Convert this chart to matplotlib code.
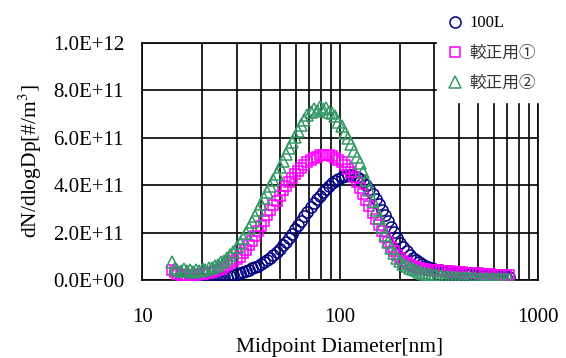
import matplotlib.pyplot as plt
import numpy as np

plt.rcParams['font.family'] = ['Liberation Serif', 'Noto Sans CJK JP']
plt.rcParams['mathtext.fontset'] = 'stix'

# SMPS channel midpoints [nm]
diam = [14.1, 14.6, 15.1, 15.7, 16.3, 16.8, 17.5, 18.1, 18.8, 19.5,
        20.2, 20.9, 21.7, 22.5, 23.3, 24.1, 25.0, 25.9, 26.9, 27.9,
        28.9, 30.0, 31.1, 32.2, 33.4, 34.6, 35.9, 37.2, 38.5, 40.0,
        41.4, 42.9, 44.5, 46.1, 47.8, 49.6, 51.4, 53.3, 55.2, 57.3,
        59.4, 61.5, 63.8, 66.1, 68.5, 71.0, 73.7, 76.4, 79.1, 82.0,
        85.1, 88.2, 91.4, 94.7, 98.2, 101.8, 105.5, 109.4, 113.4, 117.6,
        121.9, 126.3, 131.0, 135.8, 140.7, 145.9, 151.2, 156.8, 162.5, 168.5,
        174.7, 181.1, 187.7, 194.6, 201.7, 209.1, 216.7, 224.7, 232.9, 241.4,
        250.3, 259.5, 269.0, 278.8, 289.0, 299.6, 310.6, 322.0, 333.8, 346.0,
        358.7, 371.8, 385.4, 399.5, 414.2, 429.4, 445.1, 461.4, 478.3, 495.8,
        514.0, 532.8, 552.3, 572.5, 593.5, 615.3, 637.8, 661.2, 685.4, 710.5]

# dN/dlogDp in units of 1e10 #/m3
n_100L = [np.nan, np.nan, np.nan, 0.3, 0.2, 0.3, 0.2, 0.3, 0.3, 0.4,
          0.4, 0.5, 0.5, 0.6, 0.7, 0.8, 0.9, 1.1, 1.4, 1.7,
          2.1, 2.5, 3.0, 3.4, 3.9, 4.4, 4.9, 5.4, 6.0, 6.7,
          7.5, 8.4, 9.3, 10.4, 11.6, 13.0, 14.6, 16.2, 17.8, 19.6,
          21.4, 23.2, 25.0, 27.0, 28.8, 30.6, 32.4, 34.0, 35.6, 37.0,
          38.4, 39.6, 40.8, 41.8, 42.7, 43.4, 43.9, 44.2, 44.2, 43.9,
          43.3, 42.4, 41.3, 39.9, 38.2, 36.3, 34.2, 32.0, 29.6, 27.2,
          24.8, 22.4, 20.1, 17.9, 15.8, 13.9, 12.2, 10.7, 9.4, 8.3,
          7.4, 6.6, 6.0, 5.5, 5.0, 4.7, 4.4, 4.1, 3.8, 3.6,
          3.4, 3.2, 3.0, 2.9, 2.7, 2.6, 2.5, 2.4, 2.3, 2.2,
          2.1, 2.0, 1.9, 1.8, 1.7, 1.6, 1.5, 1.4, 1.3, 1.2]

n_cal1 = [4.2, 3.2, 2.6, 2.2, 2.0, 2.1, 1.9, 2.2, 2.0, 2.4,
          2.5, 2.8, 3.0, 3.4, 3.8, 4.3, 4.8, 5.5, 6.2, 7.0,
          7.9, 8.8, 9.8, 11.2, 12.8, 14.6, 16.5, 18.6, 20.8, 22.8,
          25.0, 27.2, 29.5, 31.6, 33.5, 35.6, 37.8, 39.6, 41.5, 43.0,
          44.6, 46.0, 47.3, 48.5, 49.6, 50.5, 51.4, 52.0, 52.6, 52.8,
          52.9, 52.7, 52.3, 51.6, 50.7, 49.8, 48.6, 47.0, 45.5, 43.4,
          41.2, 38.8, 36.2, 33.6, 31.0, 28.2, 25.6, 23.0, 20.6, 18.2,
          16.0, 14.0, 12.2, 10.5, 9.2, 8.0, 7.2, 6.5, 5.9, 5.5,
          5.1, 4.8, 4.6, 4.4, 4.2, 4.1, 4.0, 3.9, 3.8, 3.7,
          3.6, 3.5, 3.4, 3.3, 3.2, 3.1, 3.0, 2.9, 2.9, 2.8,
          2.7, 2.6, 2.5, 2.4, 2.3, 2.3, 2.2, 2.1, 2.0, 1.9]

n_cal2 = [7.6, 5.0, 4.2, 3.8, 4.5, 3.6, 4.0, 3.5, 4.3, 3.8,
          4.6, 4.4, 5.2, 5.0, 6.0, 6.3, 7.5, 8.2, 9.4, 10.5,
          12.0, 13.8, 15.6, 17.6, 19.8, 22.0, 24.6, 27.0, 29.5, 32.0,
          34.5, 37.0, 39.8, 42.0, 44.8, 47.5, 50.0, 53.0, 55.5, 58.0,
          60.5, 62.8, 65.5, 67.5, 69.5, 70.8, 72.0, 71.5, 72.8, 72.0,
          72.6, 71.0, 70.5, 69.0, 66.8, 65.0, 62.0, 60.0, 57.5, 54.5,
          52.0, 49.5, 45.5, 42.0, 38.0, 33.5, 29.5, 26.0, 22.5, 19.0,
          16.0, 13.5, 11.2, 9.3, 7.8, 6.7, 5.8, 5.0, 4.5, 4.0,
          3.5, 3.1, 2.7, 2.4, 2.1, 1.9, 1.7, 1.5, 1.4, 1.3,
          1.2, 1.1, 1.0, 0.9, 0.9, 0.8, 0.8, 0.7, 0.7, 0.6,
          0.6, 0.6, 0.5, 0.5, 0.5, 0.4, 0.4, 0.4, 0.4, 0.3]

labels = ['100L', '較正用①', '較正用②']
yticks = [0, 2e11, 4e11, 6e11, 8e11, 1e12]
ytick_labels = ['0.0E+00', '2.0E+11', '4.0E+11', '6.0E+11', '8.0E+11', '1.0E+12']

fig = plt.figure(figsize=(5.66, 3.58), dpi=100)
ax = fig.add_axes([0.251, 0.218, 0.6995, 0.662])

x = np.array(diam)
ax.plot(x, np.array(n_100L) * 1e10, 'o', mfc='none', mec='#000080', ms=8, mew=1.1,
        label=labels[0], zorder=3)
ax.plot(x, np.array(n_cal1) * 1e10, 's', mfc='none', mec='#FF00FF', ms=7.5, mew=1.1,
        label=labels[1], zorder=3)
ax.plot(x, np.array(n_cal2) * 1e10, '^', mfc='none', mec='#339966', ms=8.5, mew=1.1,
        label=labels[2], zorder=3)

ax.set_xscale('log')
ax.set_xlim(10, 1000)
ax.set_ylim(0, 1e12)
ax.set_yticks(yticks)
ax.set_yticklabels(ytick_labels)
ax.set_xticks([10, 100, 1000])
ax.set_xticklabels(['10', '100', '1000'])
ax.tick_params(which='both', length=0, labelsize=15, pad=18)
ax.tick_params(axis='y', pad=13)
ax.tick_params(axis='x', pad=20)
ax.grid(True, which='major', color='black', linewidth=1.2)
ax.grid(True, which='minor', axis='x', color='black', linewidth=1.2)
for s in ax.spines.values():
    s.set_linewidth(1.2)

ax.set_xlabel('Midpoint Diameter[nm]', fontsize=15.5, labelpad=8)
ax.set_ylabel('dN/dlogDp[#/m$^3$]', fontsize=15.5, labelpad=6)

leg = fig.legend(loc='upper left', bbox_to_anchor=(0.772, 0.985), fontsize=12,
                 frameon=True, facecolor='white', edgecolor='white', framealpha=1,
                 fancybox=False, labelspacing=0.85, handlelength=1.0,
                 handletextpad=0.35, borderpad=0.6, borderaxespad=0)
for t in leg.get_texts()[1:]:
    t.set_color('#333333')

fig.savefig('out.png', dpi=100)
